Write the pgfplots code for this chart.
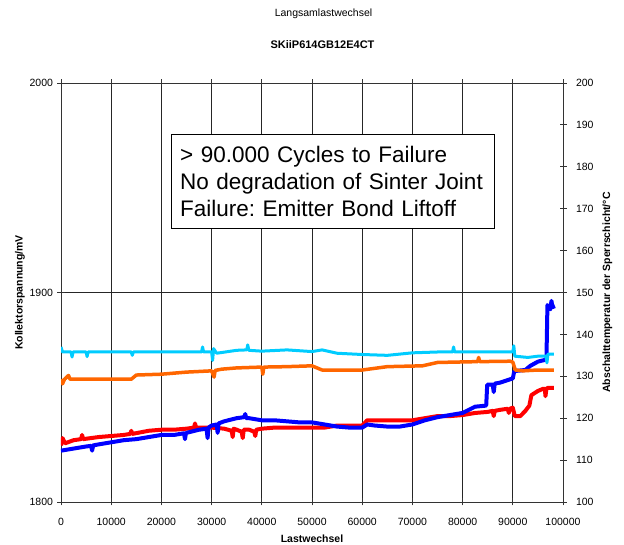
\documentclass[border=0pt]{standalone}
\usepackage{fontspec}
\setmainfont{Liberation Sans}
\usepackage{pgfplots}
\pgfplotsset{compat=1.18}
\definecolor{vcered}{RGB}{255,0,0}
\definecolor{vceblue}{RGB}{0,0,255}
\definecolor{tjcyan}{RGB}{0,204,255}
\definecolor{tjorange}{RGB}{255,102,0}
\pgfplotsset{
    common/.style={
        at={(61pt,43pt)}, anchor=south west,
        scale only axis, width=502pt, height=419pt,
        xmin=0, xmax=100000,
        /pgf/number format/assume math mode=true,
        /pgf/number format/fixed, /pgf/number format/precision=0,
        /pgf/number format/1000 sep={},
        tick label style={font=\fontsize{10.5}{12}\selectfont},
        label style={font=\bfseries\fontsize{10.5}{12}\selectfont},
        tick align=center, major tick length=7pt,
        tick style={black!80, line width=0.8pt},
        axis line style={black!80, line width=0.8pt},
    },
}
\begin{document}
\frenchspacing
\begin{tikzpicture}
\path[use as bounding box] (0,0) rectangle (624pt,545pt);
\node[font=\fontsize{10.5}{12}\selectfont] at (323.5pt,531pt) {Langsamlastwechsel};
\node[font=\bfseries\fontsize{11}{12}\selectfont] at (322.5pt,500pt) {SKiiP614GB12E4CT};

% Kollektorspannung, linke Achse
\begin{axis}[common,
    ymin=1800, ymax=2000,
    xtick={0,10000,...,100000}, ytick={1800,1900,2000},
    scaled x ticks=false, scaled y ticks=false,
    xticklabel style={yshift=-9pt},
    yticklabel style={xshift=-1pt},
    grid=major, major grid style={black!85, line width=0.7pt},
    xlabel={Lastwechsel}, xlabel style={yshift=-3pt},
    ylabel={Kollektorspannung/mV}, ylabel style={yshift=-2pt},
    axis y line*=left,
]
\addplot[vcered, line width=4pt, line join=round] coordinates {
(0,1827)(300,1830.5)(800,1828)(2500,1829.5)(4000,1830)(4200,1832)(4400,1830)
(7500,1831)(10000,1831.5)(12500,1832)(13800,1832.5)(14000,1834)(14200,1832.5)
(17500,1834)(20000,1834.5)(22500,1834.5)(25000,1835)(26500,1835.5)(26700,1837.5)
(26900,1835.5)(30000,1835.5)(32500,1835)(34000,1834)(34200,1831)(34400,1835)
(35000,1834.5)(36000,1833.5)(36200,1830.5)(36400,1834.5)(37500,1834.5)
(38500,1833.5)(38700,1831.5)(38900,1834.5)(40000,1835)(42500,1835.5)
(45000,1835.5)(47500,1835.5)(50000,1835.5)(52500,1835.5)(55000,1836.5)
(57500,1836.5)(60000,1836.5)(61000,1839)(65000,1839)(70000,1839)(72500,1840)
(75000,1841)(77500,1841)(80000,1841.5)(82500,1842.5)(85000,1843)(86000,1843.5)
(86200,1841)(86400,1843.5)(87500,1844)(89000,1844.5)(89200,1842.5)(89400,1844.5)
(90000,1845)(90400,1841)(91500,1841)(92500,1843.5)(93300,1846)(93700,1851)
(95000,1853)(96000,1854)(96400,1854)(96500,1850.5)(96700,1854)(97000,1854.5)(98200,1854.5)
};
\addplot[vceblue, line width=4pt, line join=round] coordinates {
(0,1824.5)(2500,1825.5)(5000,1826.5)(6000,1826.8)(6200,1824.5)(6400,1827)
(7500,1827.5)(10000,1828.5)(12500,1829.5)(15000,1830)(17500,1831)(20000,1832)
(22500,1832)(24500,1832.8)(24700,1830)(24900,1833)(25000,1833)(27500,1834.5)
(29000,1835)(29200,1830.5)(29400,1835.5)(30000,1836.5)(31000,1837)(31200,1833)
(31400,1837.5)(32500,1838.5)(35000,1840)(36500,1840.5)(36700,1842)(36900,1840)
(37500,1840)(40000,1839)(42500,1839)(45000,1838.5)(47500,1838)
(50000,1838)(52500,1837)(55000,1836)(57500,1835.5)(60000,1835.5)(61000,1837)
(62500,1836.5)(65000,1836)(67500,1836)(70000,1837)(72500,1839)(75000,1840.5)
(77500,1841.5)(80000,1842.5)(82500,1845.5)(84700,1846)(84900,1856)(86000,1856)
(86200,1852.5)(86400,1856.5)(87500,1857)(90000,1859)(90300,1862.5)(92500,1863)
(93500,1865)(95000,1867)(96700,1868)(96900,1894)(97500,1892)(97700,1896)
(97900,1893)(98400,1893.5)
};
\node[draw=black, fill=white, anchor=north west, minimum width=322pt,
      minimum height=94pt, text width=305pt, align=left, inner xsep=9pt,
      font=\fontsize{22.5}{27}\selectfont]
    at (rel axis cs:0.219,0.878)
    {> 90.000 Cycles to Failure\\No degradation of Sinter Joint\\Failure: Emitter Bond Liftoff};
\end{axis}

% Abschalttemperatur, rechte Achse
\begin{axis}[common,
    ymin=100, ymax=200,
    ytick={100,110,...,200},
    axis y line*=right, axis x line=none,
    ylabel={Abschalttemperatur der Sperrschicht/°C},
    ylabel style={yshift=-2pt},
    yticklabel style={xshift=6pt},
]
\addplot[tjcyan, line width=3pt, line join=round] coordinates {
(0,137)(300,135.8)(2000,135.8)(2200,134.6)(2400,135.8)(5000,135.8)(5200,134.7)
(5400,135.8)(14000,135.8)(14200,135)(14400,135.8)(28000,135.8)(28200,137)
(28400,135.8)(30000,135.8)(30200,133.8)(30400,136.6)(31000,135.5)(35000,136.2)
(37000,136.3)(37200,137.5)(37400,136.2)(40000,136)(45000,136.3)(50000,135.9)
(52000,136.3)(55000,135.5)(60000,135.2)(65000,135)(70000,135.6)(75000,135.8)
(78000,135.8)(78200,137)(78400,135.8)(90000,135.8)(90200,137.3)(90400,134.8)
(93000,134.5)(95000,134.8)(96600,134.8)(96800,133.2)(97000,135.3)(98200,135.3)
};
\addplot[tjorange, line width=3.5pt, line join=round] coordinates {
(0,129.3)(300,128.2)(700,129.3)(1500,130.2)(1800,129.3)(14000,129.3)(15000,130.3)
(20000,130.5)(25000,131)(30000,131.3)(30500,129.8)(30700,131.4)(32000,131.7)
(35000,132)(40000,132.2)(40200,130.5)(40400,132.2)(45000,132.3)
(50000,132.5)(52000,131.5)(60000,131.5)(65000,132.3)(72000,132.5)(75000,133.3)
(83000,133.5)(83200,134.5)(83400,133.5)(89500,133.6)(90000,133.4)(90500,131.5)
(92000,131.3)(95000,131.5)(98200,131.5)
};
\end{axis}
\end{tikzpicture}
\end{document}
